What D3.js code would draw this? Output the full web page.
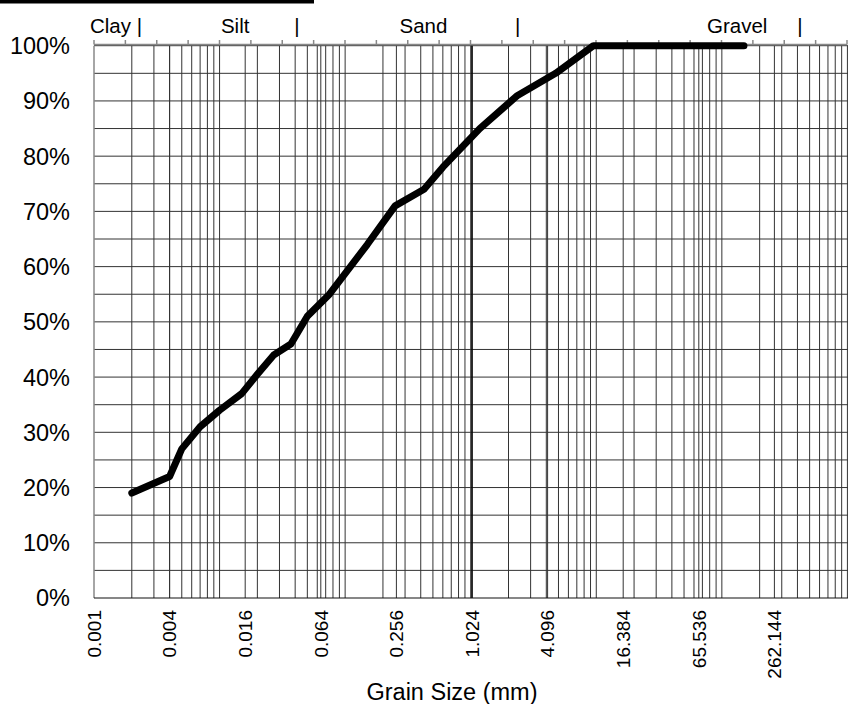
<!DOCTYPE html>
<html><head><meta charset="utf-8">
<script src="https://cdn.jsdelivr.net/npm/d3@7"></script>
<style>body{margin:0;background:#fff}svg{display:block;font-family:"Liberation Sans",Arial,sans-serif}</style>
</head><body><svg id="c" width="848" height="704"></svg>
<script>
// data
const grainSizes = [0.002,0.004,0.005,0.007,0.01,0.015,0.02,0.027,0.037,0.05,0.075,0.15,0.25,0.425,0.6,1.18,2.36,4.75,9.5,150];
const percentPassing = [19,22,27,31,34,37,40.5,44,46,51,55,64,71,74,78,85,91,95,100,100];
const xTickValues = [0.001,0.004,0.016,0.064,0.256,1.024,4.096,16.384,65.536,262.144];
const xTickLabels = ["0.001","0.004","0.016","0.064","0.256","1.024","4.096","16.384","65.536","262.144"];
const yTickValues = [0,10,20,30,40,50,60,70,80,90,100];
const topLabels = ["Clay |","Silt","|","Sand","|","Gravel","|"];
const topLabelSlots = [0.7,4.5,6.47,10.5,13.5,20.5,22.5];

(function(){
const svg = d3.select("#c");
const L=94, R=850, T=45.7, B=598;
const x = d3.scaleLog().domain([0.001,1048.576]).range([L,R]);
const y = d3.scaleLinear().domain([0,100]).range([B,T]);
const topScale = d3.scaleLinear().domain([0,24]).range([L,847]);

svg.append("rect").attr("x",0).attr("y",0).attr("width",314).attr("height",3.5).attr("fill","#000");

const g = svg.append("g");
const vgrid = [];
for (let k=-3;k<=2;k++) for (let n=1;n<=9;n++) vgrid.push(n*Math.pow(10,k));
vgrid.push(1000);
for (let k=0;k<=10;k++) vgrid.push(0.001*Math.pow(4,k));
g.selectAll(".vg").data(vgrid.filter(v=>v>0.001&&v<1048)).enter().append("line")
  .attr("x1",d=>x(d)).attr("x2",d=>x(d)).attr("y1",T).attr("y2",B)
  .attr("stroke","#333").attr("stroke-width",1);
const hgrid = d3.range(5,101,5);
g.selectAll(".hg").data(hgrid).enter().append("line")
  .attr("x1",L).attr("x2",850).attr("y1",d=>y(d)).attr("y2",d=>y(d))
  .attr("stroke","#333").attr("stroke-width",1);
g.append("line").attr("x1",x(1.024)).attr("x2",x(1.024)).attr("y1",T).attr("y2",B)
  .attr("stroke","#000").attr("stroke-width",1.4);
g.append("line").attr("x1",L).attr("x2",L).attr("y1",T).attr("y2",B).attr("stroke","#888").attr("stroke-width",1.5);
g.append("line").attr("x1",L).attr("x2",850).attr("y1",B).attr("y2",B).attr("stroke","#111").attr("stroke-width",1.2);

svg.append("line").attr("x1",L).attr("x2",847).attr("y1",44.5).attr("y2",44.5).attr("stroke","#888").attr("stroke-width",1.5);
svg.selectAll(".tt").data(d3.range(0,25)).enter().append("line")
  .attr("x1",d=>topScale(d)).attr("x2",d=>topScale(d)).attr("y1",40).attr("y2",44.5)
  .attr("stroke","#888").attr("stroke-width",1.5);
svg.selectAll(".tl").data(topLabels).enter().append("text")
  .attr("x",(d,i)=>topScale(topLabelSlots[i])).attr("y",33)
  .attr("text-anchor","middle").attr("font-size",20.5).attr("fill","#000").text(d=>d);

svg.selectAll(".yl").data(yTickValues).enter().append("text")
  .attr("x",70).attr("y",d=>y(d)).attr("dy","0.36em").attr("text-anchor","end")
  .attr("font-size",23.5).attr("fill","#000").text(d=>d+"%");

svg.selectAll(".xl").data(xTickValues).enter().append("text")
  .attr("transform",d=>`translate(${x(d)},610) rotate(-90)`)
  .attr("dy","0.36em").attr("text-anchor","end")
  .attr("font-size",19).attr("fill","#000").text((d,i)=>xTickLabels[i]);

svg.append("text").attr("x",452).attr("y",700).attr("text-anchor","middle")
  .attr("font-size",23.5).attr("fill","#000").text("Grain Size (mm)");

const pts = grainSizes.map((s,i)=>[s,percentPassing[i]]);
svg.append("path").datum(pts)
  .attr("d",d3.line().x(d=>x(d[0])).y(d=>y(d[1])))
  .attr("fill","none").attr("stroke","#000").attr("stroke-width",7)
  .attr("stroke-linejoin","round").attr("stroke-linecap","round");
})();
</script></body></html>
